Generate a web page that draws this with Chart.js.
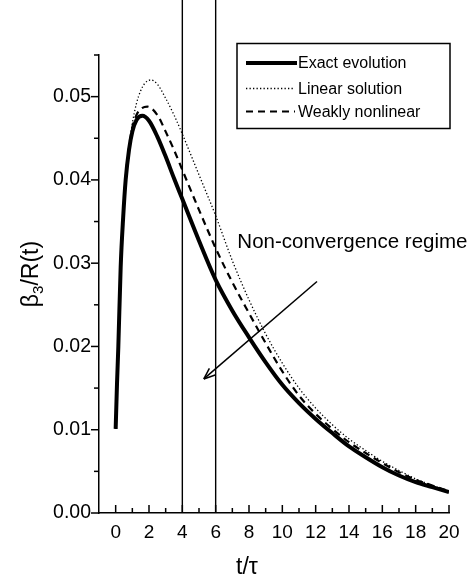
<!DOCTYPE html>
<html><head><meta charset="utf-8">
<script src="https://cdn.jsdelivr.net/npm/chart.js@4.4.1/dist/chart.umd.min.js"></script>
<style>html,body{margin:0;padding:0;background:#fff;}#wrap{width:472px;height:576px;}</style>
</head><body><div id="wrap"><canvas id="c" width="472" height="576"></canvas></div>
<script>
const FONT = '"Liberation Sans", Arial, Helvetica, sans-serif';

// ---- data ----
const exactT = [0, 0.08, 0.16, 0.3, 0.45, 0.6, 0.8, 1.0, 1.25, 1.6, 2, 2.5, 3, 3.5, 4, 5, 6, 7, 8, 9, 10, 11, 12, 13, 14, 15, 16, 17, 18, 19, 20];
const exactV = [0.0101, 0.0155, 0.0200, 0.0295, 0.0355, 0.0400, 0.0436, 0.0458, 0.0472, 0.0477, 0.0471, 0.0452, 0.0428, 0.0402, 0.0377, 0.0327, 0.0280, 0.0243, 0.0211, 0.0181, 0.0154, 0.0132, 0.0113, 0.0096, 0.0080, 0.0067, 0.0055, 0.0045, 0.0037, 0.0031, 0.0025];

const linearT = [0, 0.08, 0.16, 0.3, 0.45, 0.6, 0.8, 1.0, 1.25, 1.5, 1.75, 2.1, 2.5, 3, 3.5, 4, 5, 6, 7, 8, 9, 10, 11, 12, 13, 14, 15, 16, 17, 18, 19, 20];
const linearV = [0.0101, 0.0155, 0.0200, 0.0296, 0.0357, 0.0403, 0.0440, 0.0468, 0.0492, 0.0507, 0.0516, 0.0520, 0.0515, 0.0498, 0.0478, 0.0455, 0.0406, 0.0357, 0.0303, 0.0256, 0.0215, 0.0180, 0.0150, 0.0126, 0.0106, 0.0089, 0.0075, 0.0062, 0.0051, 0.0041, 0.0033, 0.0026];

const weakT = [0, 0.08, 0.16, 0.3, 0.45, 0.6, 0.8, 1.0, 1.25, 1.5, 1.9, 2.5, 3, 3.5, 4, 5, 6, 7, 8, 9, 10, 11, 12, 13, 14, 15, 16, 17, 18, 19, 20];
const weakV = [0.0101, 0.0155, 0.0200, 0.0296, 0.0356, 0.0402, 0.0438, 0.0463, 0.0478, 0.0485, 0.0488, 0.0478, 0.0458, 0.0436, 0.0412, 0.0364, 0.0318, 0.0277, 0.0240, 0.0204, 0.0170, 0.0141, 0.0119, 0.0101, 0.0085, 0.0072, 0.0060, 0.0049, 0.0040, 0.0033, 0.0026];

const seriesNames = ['Exact evolution', 'Linear solution', 'Weakly nonlinear'];
const xTickValues = [0, 2, 4, 6, 8, 10, 12, 14, 16, 18, 20];
const xMinorValues = [1, 3, 5, 7, 9, 11, 13, 15, 17, 19];
const yTickValues = [0, 0.01, 0.02, 0.03, 0.04, 0.05];
const yMinorValues = [0.005, 0.015, 0.025, 0.035, 0.045, 0.055];
const regimeBounds = [4, 6];
const regimeLineTop = 0.0617;
const arrowFrom = [12.08, 0.0278];
const arrowTo = [5.29, 0.0161];
const annotationText = 'Non-convergence regime';
const annotationPos = [7.3, 0.0318];
const xTitle = 't/\u03c4';

const pts = (ts, vs) => ts.map((t, i) => ({x: t, y: vs[i]}));

const common = {showLine: true, pointRadius: 0, borderColor: '#000', backgroundColor: '#000', fill: false};

const datasets = [
  Object.assign({label: seriesNames[1], data: pts(linearT, linearV), borderWidth: 1.3, borderDash: [1.3, 2.2], cubicInterpolationMode: 'monotone'}, common),
  Object.assign({label: seriesNames[2], data: pts(weakT, weakV), borderWidth: 2.2, borderDash: [7, 5], cubicInterpolationMode: 'monotone'}, common),
  Object.assign({label: seriesNames[0], data: pts(exactT, exactV), borderWidth: 4, cubicInterpolationMode: 'monotone'}, common),
];
regimeBounds.forEach(b => datasets.push(Object.assign({label: 'bound', data: [{x: b, y: 0}, {x: b, y: regimeLineTop}], borderWidth: 1.4, clip: false}, common)));
datasets.push(Object.assign({label: 'arrow', data: [{x: arrowFrom[0], y: arrowFrom[1]}, {x: arrowTo[0], y: arrowTo[1]}], borderWidth: 1.5}, common));

const decor = {
  id: 'decor',
  afterDraw(chart) {
    const ctx = chart.ctx, xs = chart.scales.x, ys = chart.scales.y;
    const L = chart.chartArea.left, B = chart.chartArea.bottom;
    ctx.save();
    ctx.strokeStyle = '#000'; ctx.fillStyle = '#000'; ctx.lineWidth = 1.5;
    // y ticks (outward)
    yTickValues.forEach(v => { const p = ys.getPixelForValue(v); ctx.beginPath(); ctx.moveTo(L - 8, p); ctx.lineTo(L, p); ctx.stroke(); });
    yMinorValues.forEach(v => { const p = ys.getPixelForValue(v); ctx.beginPath(); ctx.moveTo(L - 5, p); ctx.lineTo(L, p); ctx.stroke(); });
    // x ticks (inward)
    xTickValues.forEach(v => { const p = xs.getPixelForValue(v); ctx.beginPath(); ctx.moveTo(p, B); ctx.lineTo(p, B - 8); ctx.stroke(); });
    xMinorValues.forEach(v => { const p = xs.getPixelForValue(v); ctx.beginPath(); ctx.moveTo(p, B); ctx.lineTo(p, B - 5); ctx.stroke(); });
    // arrow head
    const ax0 = xs.getPixelForValue(arrowFrom[0]), ay0 = ys.getPixelForValue(arrowFrom[1]);
    const ax1 = xs.getPixelForValue(arrowTo[0]), ay1 = ys.getPixelForValue(arrowTo[1]);
    const ang = Math.atan2(ay0 - ay1, ax0 - ax1);
    [0.38, -0.38].forEach(d => { ctx.beginPath(); ctx.moveTo(ax1, ay1); ctx.lineTo(ax1 + 12 * Math.cos(ang + d), ay1 + 12 * Math.sin(ang + d)); ctx.stroke(); });
    // annotation
    ctx.font = '20.5px ' + FONT; ctx.textAlign = 'left'; ctx.textBaseline = 'alphabetic';
    ctx.fillText(annotationText, xs.getPixelForValue(annotationPos[0]), ys.getPixelForValue(annotationPos[1]));
    // legend
    ctx.lineWidth = 1.5;
    ctx.strokeRect(237, 43.5, 213, 85);
    const rows = [[seriesNames[0], 63, 4, []], [seriesNames[1], 88.5, 1.3, [1.3, 2.2]], [seriesNames[2], 111.5, 2.2, [7, 5]]];
    ctx.font = '16px ' + FONT; ctx.textBaseline = 'middle';
    rows.forEach(r => {
      ctx.save(); ctx.lineWidth = r[2]; ctx.setLineDash(r[3]);
      ctx.beginPath(); ctx.moveTo(246, r[1]); ctx.lineTo(r[3].length ? 295 : 297, r[1]); ctx.stroke(); ctx.restore();
      ctx.fillText(r[0], 298, r[1] + 1);
    });
    // x title
    ctx.font = '23px ' + FONT; ctx.textAlign = 'center'; ctx.textBaseline = 'alphabetic';
    ctx.fillText(xTitle, 247, 574);
    // y title with subscript
    ctx.save();
    ctx.translate(38, 274); ctx.rotate(-Math.PI / 2);
    const big = '23px ' + FONT, small = '15px ' + FONT;
    ctx.font = big; const w1 = ctx.measureText('\u03b2').width, w3 = ctx.measureText('/R(t)').width;
    ctx.font = small; const w2 = ctx.measureText('3').width;
    let x0 = -(w1 + w2 + w3) / 2;
    ctx.textAlign = 'left';
    ctx.font = big; ctx.fillText('\u03b2', x0, 0);
    ctx.font = small; ctx.fillText('3', x0 + w1, 5);
    ctx.font = big; ctx.fillText('/R(t)', x0 + w1 + w2, 0);
    ctx.restore();
    ctx.restore();
  }
};

new Chart(document.getElementById('c'), {
  type: 'scatter',
  data: {datasets},
  options: {
    responsive: false, animation: false, devicePixelRatio: 1,
    layout: {padding: {left: 0, right: 23, top: 55, bottom: 0}},
    plugins: {legend: {display: false}, tooltip: {enabled: false}},
    scales: {
      x: {
        type: 'linear', min: -1, max: 20,
        afterBuildTicks: s => { s.ticks = xTickValues.map(v => ({value: v})); },
        afterFit: s => { s.height = 63; },
        grid: {display: false, drawTicks: false},
        border: {display: true, color: '#000', width: 1.5},
        ticks: {autoSkip: false, maxRotation: 0, padding: 8, color: '#000', font: {family: FONT, size: 19}}
      },
      y: {
        type: 'linear', min: 0, max: 0.055,
        afterBuildTicks: s => { s.ticks = yTickValues.map(v => ({value: v})); },
        afterFit: s => { s.width = 99; },
        grid: {display: false, drawTicks: false},
        border: {display: true, color: '#000', width: 1.5},
        ticks: {padding: 8, color: '#000', font: {family: FONT, size: 19.5}, callback: v => v.toFixed(2)}
      }
    }
  },
  plugins: [decor]
});
</script></body></html>
